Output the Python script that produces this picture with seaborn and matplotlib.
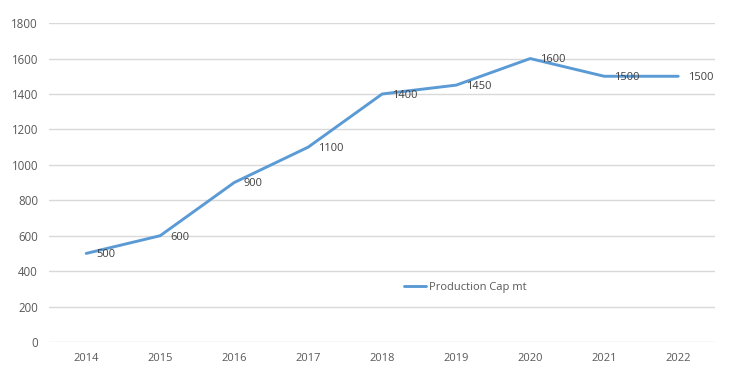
import matplotlib
matplotlib.use("Agg")
import matplotlib.pyplot as plt
import seaborn as sns
import pandas as pd

years = ["2014", "2015", "2016", "2017", "2018", "2019", "2020", "2021", "2022"]
production_cap = [500, 600, 900, 1100, 1400, 1450, 1600, 1500, 1500]
series_name = "Production Cap mt"
y_ticks = [0, 200, 400, 600, 800, 1000, 1200, 1400, 1600, 1800]

df = pd.DataFrame({"year": years, "value": production_cap, "series": series_name})

sns.set_theme(style="white")
plt.rcParams["font.family"] = ["Open Sans", "DejaVu Sans"]

fig = plt.figure(figsize=(7.45, 3.79), dpi=100)
ax = fig.add_axes([0.066, 0.0976, 0.894, 0.8414])

sns.lineplot(data=df, x="year", y="value", hue="series", palette=["#5B9BD5"],
             linewidth=2.1, ax=ax, sort=False)

for i, v in enumerate(production_cap):
    ax.annotate(str(v), (i, v), xytext=(7, -1), textcoords="offset points",
                ha="left", va="center", fontsize=8, color="#404040")

ax.set_xlim(-0.5, len(years) - 0.5)
ax.set_ylim(0, 1800)
ax.set_yticks(y_ticks)
ax.set_yticklabels([str(t) for t in y_ticks])
ax.yaxis.grid(True, color="#D9D9D9", linewidth=1)
ax.xaxis.grid(False)
for s in ax.spines.values():
    s.set_visible(False)
ax.tick_params(axis="y", length=0, labelsize=8.3, labelcolor="#595959", pad=8)
ax.tick_params(axis="x", length=0, labelsize=8, labelcolor="#595959", pad=8)
ax.set_xlabel("")
ax.set_ylabel("")

ax.legend(loc="center", bbox_to_anchor=(0.625, 0.172), frameon=False,
          fontsize=8, labelcolor="#595959", handlelength=2.0, handletextpad=0.3)

fig.savefig("out.png", dpi=100)
